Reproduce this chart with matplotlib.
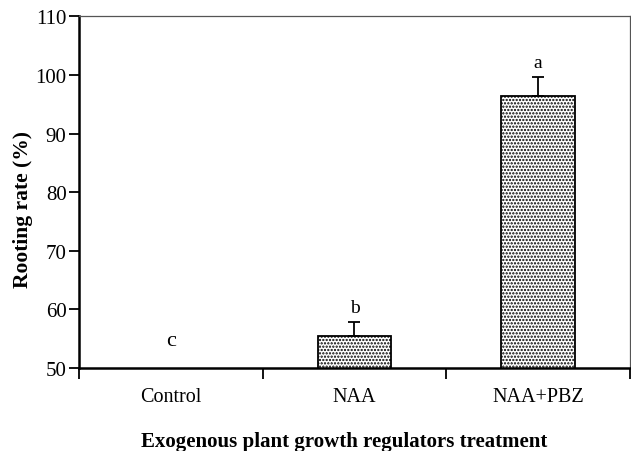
import matplotlib
matplotlib.use('Agg')
import matplotlib.pyplot as plt
import numpy as np

treatments = ['Control', 'NAA', 'NAA+PBZ']
rooting_rate = [0.0, 55.5, 96.4]
rooting_err = [0.0, 2.4, 3.3]
letters = ['c', 'b', 'a']

plt.rcParams['font.family'] = ['Liberation Serif', 'DejaVu Serif']
plt.rcParams['hatch.color'] = '#707070'
plt.rcParams['hatch.linewidth'] = 1.1

fig = plt.figure(figsize=(6.31, 4.52), dpi=100)
ax = fig.add_axes([0.1252, 0.1836, 0.8732, 0.7777])

x = np.arange(len(treatments))
ax.bar(x, rooting_rate, width=0.4, color='white', edgecolor='black',
       linewidth=1.3, hatch='.....', zorder=2)
ax.errorbar(x, rooting_rate, yerr=[np.zeros(len(x)), rooting_err], fmt='none',
            ecolor='black', elinewidth=1.3, capsize=4, capthick=1.3, zorder=3)

# significance letters
for i, (v, e, s) in enumerate(zip(rooting_rate, rooting_err, letters)):
    if v < 50:
        ax.text(i, 53.0, s, ha='center', va='bottom', fontsize=16)
    else:
        ax.annotate(s, (i, v + e), xytext=(0, 4), textcoords='offset points',
                    ha='center', va='bottom', fontsize=14)

ax.set_xlim(-0.5, 2.5)
ax.set_ylim(50, 110)
ax.set_yticks(range(50, 111, 10))
ax.set_xticks(x)
ax.set_xticklabels(treatments, fontsize=14.5)
ax.set_xticks([-0.5, 0.5, 1.5, 2.5], minor=True)
ax.tick_params(axis='x', which='major', length=0, pad=14)
ax.tick_params(axis='x', which='minor', length=8, width=1.3, direction='out')
ax.tick_params(axis='y', length=7, width=1.3, labelsize=15, pad=2)

for side in ['left', 'bottom']:
    ax.spines[side].set_linewidth(1.8)
for side in ['top', 'right']:
    ax.spines[side].set_linewidth(0.9)
    ax.spines[side].set_color('#555555')

ax.set_ylabel('Rooting rate (%)', fontsize=15.5, fontweight='bold')
ax.yaxis.set_label_coords(-0.084, 0.455)
ax.set_xlabel('Exogenous plant growth regulators treatment', fontsize=15,
              fontweight='bold')
ax.xaxis.set_label_coords(0.482, -0.18)

fig.savefig('out.png', dpi=100)
